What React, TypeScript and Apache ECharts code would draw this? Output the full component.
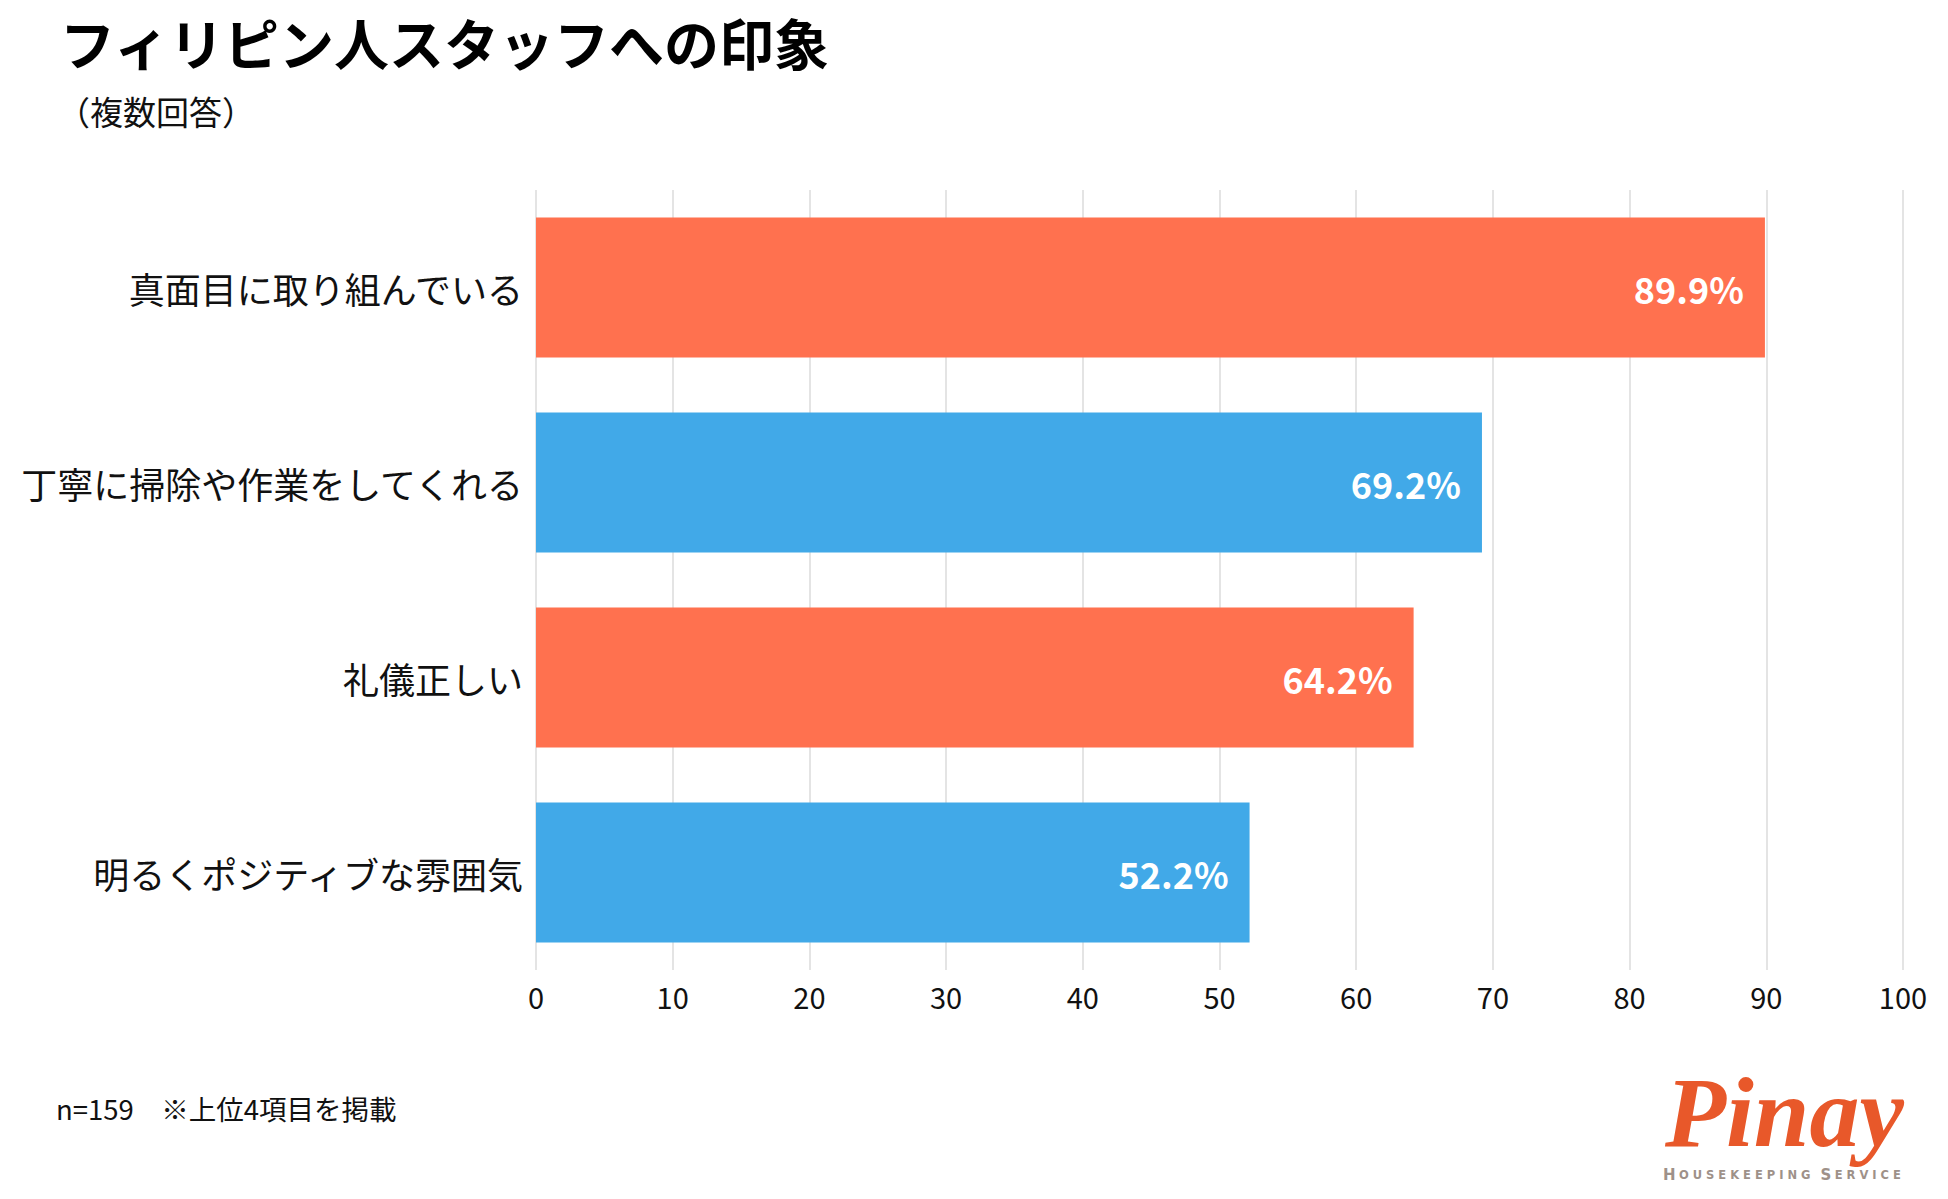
import * as echarts from 'echarts';
import { useEffect, useRef } from 'react';

const categories = ['真面目に取り組んでいる', '丁寧に掃除や作業をしてくれる', '礼儀正しい', '明るくポジティブな雰囲気'];
const values = [89.9, 69.2, 64.2, 52.2];
const barColors = ['#FF714F', '#41A9E8', '#FF714F', '#41A9E8'];
const axisMin = 0;
const axisMax = 100;
const axisStep = 10;

const titleText = 'フィリピン人スタッフへの印象';
const subtitleText = '（複数回答）';
const noteText = 'n=159　※上位4項目を掲載';

const FONT = '"Noto Sans CJK JP", "Noto Sans", sans-serif';

export default function App() {
    const chartRef = useRef<HTMLDivElement>(null);

    useEffect(() => {
        document.body.style.margin = '0';
        document.body.style.overflow = 'hidden';
        const chart = echarts.init(chartRef.current, null, { renderer: 'svg' });

        const option = {
            animation: false,
            backgroundColor: '#ffffff',
            textStyle: { fontFamily: FONT },
            grid: { left: 536, right: 45, top: 190, height: 780, containLabel: false },
            xAxis: {
                type: 'value',
                min: axisMin,
                max: axisMax,
                interval: axisStep,
                axisLine: { show: false },
                axisTick: { show: false },
                axisLabel: { color: '#111', fontSize: 29, margin: 11, fontFamily: FONT },
                splitLine: { show: true, lineStyle: { color: '#e4e4e4', width: 2 } },
            },
            yAxis: {
                type: 'category',
                inverse: true,
                data: categories,
                axisLine: { show: false },
                axisTick: { show: false },
                axisLabel: { color: '#111', fontSize: 36, margin: 13, fontFamily: FONT },
            },
            series: [
                {
                    type: 'bar',
                    barWidth: 140,
                    data: values.map((v, i) => ({ value: v, itemStyle: { color: barColors[i] } })),
                    label: {
                        show: true,
                        position: 'insideRight',
                        distance: 21,
                        color: '#ffffff',
                        fontSize: 36,
                        fontWeight: 'bold',
                        fontFamily: FONT,
                        formatter: (p: any) => p.value.toFixed(1) + '%',
                    },
                },
            ],
            graphic: [
                {
                    type: 'text',
                    x: 60,
                    y: 41,
                    style: {
                        text: titleText,
                        fontSize: 55,
                        fontWeight: 'bold',
                        fontFamily: FONT,
                        fill: '#000',
                        textAlign: 'left',
                        textVerticalAlign: 'middle',
                    },
                },
                {
                    type: 'text',
                    x: 57,
                    y: 111,
                    style: {
                        text: subtitleText,
                        fontSize: 33,
                        fontFamily: FONT,
                        fill: '#111',
                        textAlign: 'left',
                        textVerticalAlign: 'middle',
                    },
                },
                {
                    type: 'text',
                    x: 56,
                    y: 1108,
                    style: {
                        text: noteText,
                        fontSize: 27.5,
                        fontFamily: FONT,
                        fill: '#111',
                        textAlign: 'left',
                        textVerticalAlign: 'middle',
                    },
                },
                {
                    type: 'text',
                    x: 1665,
                    y: 1112,
                    style: {
                        text: 'Pinay',
                        fontSize: 100,
                        lineHeight: 70,
                        fontStyle: 'italic',
                        fontWeight: 'bold',
                        fontFamily: '"Liberation Serif", serif',
                        fill: '#E8582A',
                        textAlign: 'left',
                        textVerticalAlign: 'middle',
                    },
                },
                {
                    type: 'text',
                    x: 1663,
                    y: 1175,
                    style: {
                        text: '{b|H} {s|O U S E K E E P I N G}   {b|S} {s|E R V I C E}',
                        fill: '#9E9189',
                        textAlign: 'left',
                        textVerticalAlign: 'middle',
                        rich: {
                            b: { fontSize: 15, lineHeight: 14, fontFamily: '"DejaVu Sans", sans-serif', fill: '#9E9189', fontWeight: 'bold' },
                            s: { fontSize: 11.5, lineHeight: 14, fontFamily: '"DejaVu Sans", sans-serif', fill: '#9E9189', fontWeight: 'bold' },
                        },
                    },
                },
            ],
        };

        chart.setOption(option);
        return () => {
            chart.dispose();
        };
    }, []);

    return <div ref={chartRef} style={{ width: 1948, height: 1199 }} />;
}
